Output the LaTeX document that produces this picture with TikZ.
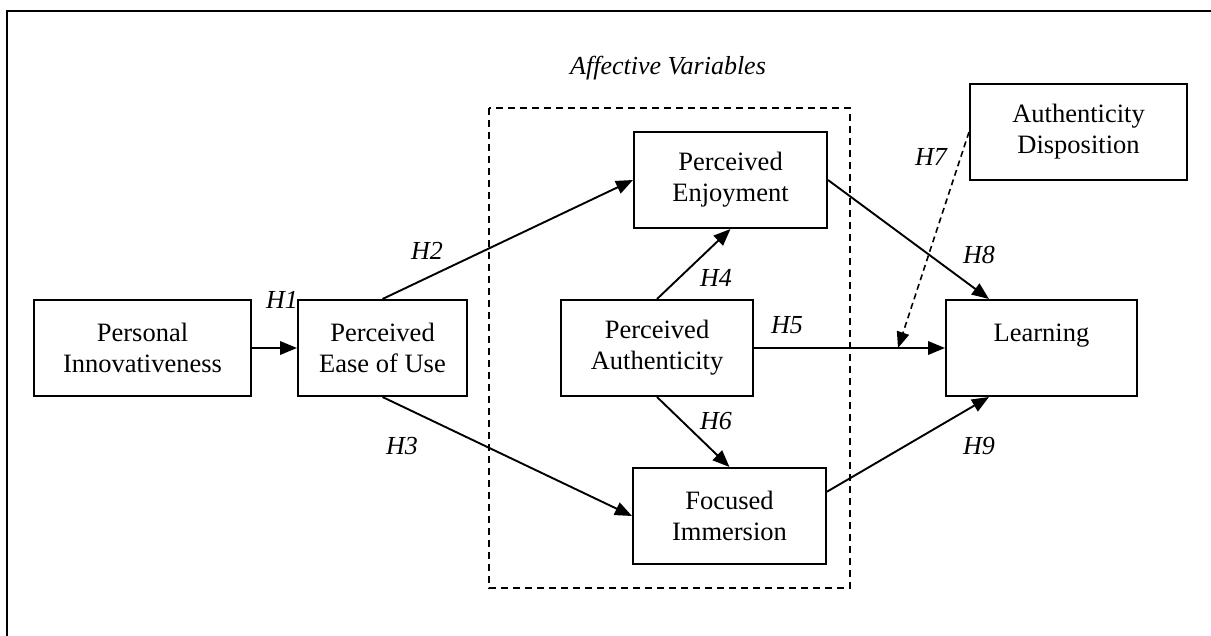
\documentclass[tikz,border=0pt]{standalone}
\usepackage{fontspec}
\setmainfont{Liberation Serif}
\usetikzlibrary{arrows.meta,calc}
\begin{document}
\begin{tikzpicture}[x=1pt,y=-1pt,
  box/.style={draw,line width=2pt,minimum width=#1,minimum height=96pt,
    align=center,inner sep=0pt,font=\fontsize{26.5}{31}\selectfont},
  box/.default=193pt,
  link/.style={line width=1.9pt,-{Triangle[length=17pt,width=13.5pt]}},
  hyp/.style={font=\fontsize{26}{31}\selectfont\itshape,inner sep=0pt},
  group/.style={draw,line width=2pt,dash pattern=on 7pt off 5pt},
  frame/.style={line width=2.6pt}]
\useasboundingbox (0,0) rectangle (1211,635);

% outer frame (top and left edges)
\draw[frame] (7,640) -- (7,11) -- (1215,11);

% affective variables group
\draw[group] (489,108) rectangle (850,588);
\node[hyp] (affect) at (668,68) {Affective Variables};

% constructs
\node[box=217pt] (PI)  at (142.5,348) {Personal\\Innovativeness};
\node[box=169pt] (PEU) at (382.5,348) {Perceived\\Ease of Use};
\node[box=193pt] (PE)  at (730.5,180) {Perceived\\Enjoyment};
\node[box=192pt] (PA)  at (657,348)   {Perceived\\Authenticity};
\node[box=193pt] (FI)  at (729.5,516) {Focused\\Immersion};
\node[box=217pt] (AD)  at (1078.5,132) {Authenticity\\Disposition};
\node[box=191pt] (LE)  at (1041.5,348) {Learning\\\mbox{}};

% paths
\draw[link] (PI.east) -- (PEU.west);
\draw[link] (PEU.north) -- (PE.west);
\draw[link] (PEU.south) -- (FI.west);
\draw[link] (PA.north) -- (PE.south);
\draw[link] (PA.east) -- (LE.west);
\draw[link] (PA.south) -- (FI.north);
\draw[link] (PE.east) -- (LE.137);
\draw[link] (FI.14) -- (LE.223);

% moderation by authenticity disposition
\coordinate (mod) at (898,348);
\draw[line width=1.6pt,dash pattern=on 6pt off 4pt,-{Triangle[length=16pt,width=12.5pt]}] (AD.west) -- (mod);

% hypothesis labels
\node[hyp] (h1) at (282,300) {H1};
\node[hyp] (h2) at (427,251) {H2};
\node[hyp] (h3) at (402,446) {H3};
\node[hyp] (h4) at (716,278) {H4};
\node[hyp] (h5) at (787,325) {H5};
\node[hyp] (h6) at (716,421) {H6};
\node[hyp] (h7) at (931,157) {H7};
\node[hyp] (h8) at (979,255) {H8};
\node[hyp] (h9) at (979,446) {H9};
\end{tikzpicture}
\end{document}
